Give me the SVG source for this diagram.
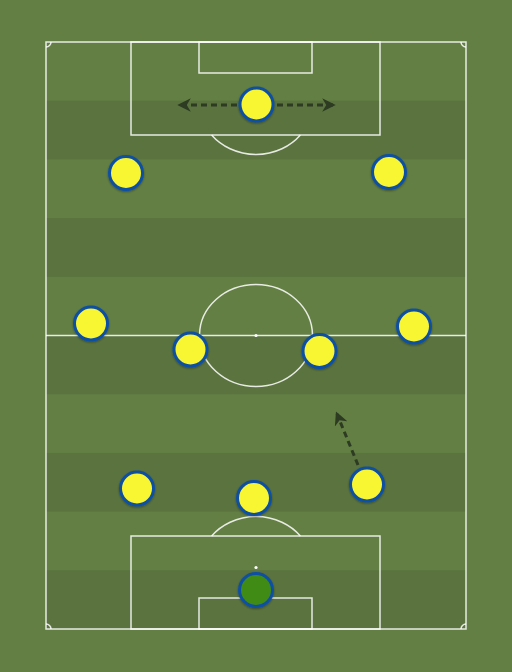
<svg xmlns="http://www.w3.org/2000/svg" width="512" height="672" viewBox="0 0 512 672">
  <defs>
    <style>
      .line{fill:none;stroke:#ffffff;stroke-width:1.5;stroke-opacity:0.85}
      .stripe{fill:#5a733f}
      .player{fill:#f8f533;stroke:#0f4fa3;stroke-width:3}
      .gk{fill:#3f8a18;stroke:#0f4fa3;stroke-width:3}
      .move{fill:none;stroke:#2c3b22;stroke-width:3;stroke-dasharray:6 4;marker-end:url(#ah)}
    </style>
    <marker id="ah" viewBox="0 0 10 10" refX="8" refY="5" markerWidth="4.5" markerHeight="4.5" markerUnits="strokeWidth" orient="auto">
      <path d="M0,0 L10,5 L0,10 L3,5 z" fill="#2c3b22"/>
    </marker>
    <filter id="sh" x="-30%" y="-30%" width="160%" height="160%">
      <feDropShadow dx="0" dy="1" stdDeviation="1.2" flood-color="#000" flood-opacity="0.35"/>
    </filter>
  </defs>
  <rect x="0" y="0" width="512" height="672" fill="#637f44"/>
  <g id="pitch">
    <rect class="stripe" x="46" y="100.7" width="420" height="58.7"/>
    <rect class="stripe" x="46" y="218.1" width="420" height="58.7"/>
    <rect class="stripe" x="46" y="335.5" width="420" height="58.7"/>
    <rect class="stripe" x="46" y="452.9" width="420" height="58.7"/>
    <rect class="stripe" x="46" y="570.3" width="420" height="58.7"/>
    <rect class="line" x="46" y="42" width="420" height="587"/>
    <line class="line" x1="46" y1="335.5" x2="466" y2="335.5"/>
    <ellipse class="line" cx="256" cy="335.5" rx="56.5" ry="51"/>
    <circle cx="256" cy="335.5" r="1.6" fill="#fff"/>
    <rect class="line" x="131" y="42" width="249" height="93"/>
    <rect class="line" x="199" y="42" width="113" height="31"/>
    <path class="line" d="M211.6,135 A56.5,51 0 0 0 300.4,135"/>
    <circle cx="256" cy="103.5" r="1.6" fill="#fff"/>
    <rect class="line" x="131" y="536" width="249" height="93"/>
    <rect class="line" x="199" y="598" width="113" height="31"/>
    <path class="line" d="M211.6,536 A56.5,51 0 0 1 300.4,536"/>
    <circle cx="256" cy="567.5" r="1.6" fill="#fff"/>
    <path class="line" d="M46,47 A5,5 0 0 0 51,42"/>
    <path class="line" d="M461,42 A5,5 0 0 0 466,47"/>
    <path class="line" d="M46,624 A5,5 0 0 1 51,629"/>
    <path class="line" d="M461,629 A5,5 0 0 1 466,624"/>
  </g>
  <g id="connectors">
    <line class="move" x1="237" y1="105" x2="180" y2="105"/>
    <line class="move" x1="277" y1="105" x2="333" y2="105"/>
    <line class="move" x1="358" y1="465" x2="337" y2="414"/>
  </g>
  <g id="players" filter="url(#sh)">
    <g id="p1"><circle class="player" cx="256.5" cy="104.5" r="16.5"/></g>
    <g id="p2"><circle class="player" cx="126" cy="173" r="16.5"/></g>
    <g id="p3"><circle class="player" cx="389" cy="172" r="16.5"/></g>
    <g id="p4"><circle class="player" cx="91" cy="323.5" r="16.5"/></g>
    <g id="p5"><circle class="player" cx="190.5" cy="349.5" r="16.5"/></g>
    <g id="p6"><circle class="player" cx="319.5" cy="351" r="16.5"/></g>
    <g id="p7"><circle class="player" cx="414" cy="326.5" r="16.5"/></g>
    <g id="p8"><circle class="player" cx="137" cy="488.5" r="16.5"/></g>
    <g id="p9"><circle class="player" cx="254" cy="498" r="16.5"/></g>
    <g id="p10"><circle class="player" cx="367" cy="484.5" r="16.5"/></g>
    <g id="gk"><circle class="gk" cx="256" cy="590" r="16.5"/></g>
  </g>
</svg>
